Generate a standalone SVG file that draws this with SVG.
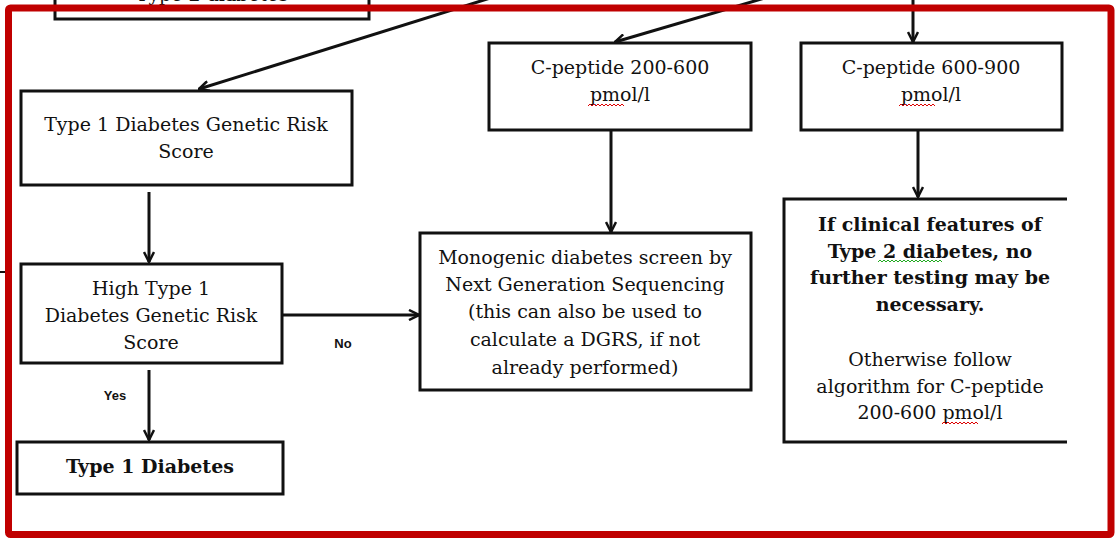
<svg xmlns="http://www.w3.org/2000/svg" width="1115" height="541" viewBox="0 0 1115 541">
<style>
.box{fill:#fff;stroke:#111;stroke-width:3}
.open{fill:none;stroke:#111;stroke-width:3}
.t{font-family:"DejaVu Serif","Liberation Serif",serif;font-size:19px;fill:#111;text-anchor:middle}
.b{font-weight:bold}
.lbl{font-family:"Liberation Sans",Arial,sans-serif;font-size:13px;font-weight:bold;fill:#111;text-anchor:middle}
.c{fill:none;stroke:#111;stroke-width:3}
.sq{fill:none;stroke-width:1}
</style>
<defs>
<marker id="ah" viewBox="0 0 12 12" refX="11" refY="6" markerWidth="12" markerHeight="12" markerUnits="userSpaceOnUse" orient="auto">
<path d="M1,1 L11,6 L1,11" fill="none" stroke="#111" stroke-width="2.5"/>
</marker>
</defs>
<rect width="1115" height="541" fill="#fff"/>

<g id="type2-box">
<path class="open" d="M55,-2 V19 H369 V-2"/>
<text class="t" x="212" y="1">Type 2 diabetes</text>
</g>

<g id="connectors">
<path class="c" d="M500,-5 L199,89" marker-end="url(#ah)"/>
<path class="c" d="M775,-5 L615,42" marker-end="url(#ah)"/>
<path class="c" d="M913,-5 V42" marker-end="url(#ah)"/>
<path class="c" d="M918,130 V197" marker-end="url(#ah)"/>
<path class="c" d="M611,130 V232" marker-end="url(#ah)"/>
<path class="c" d="M149,192 V262" marker-end="url(#ah)"/>
<path class="c" d="M282,315 H419" marker-end="url(#ah)"/>
<path class="c" d="M149,370 V440" marker-end="url(#ah)"/>
<path d="M0,272 H10" stroke="#111" stroke-width="2"/>
<text class="lbl" x="343" y="348">No</text>
<text class="lbl" x="115" y="400">Yes</text>
</g>

<g id="t1grs">
<rect class="box" x="21" y="91" width="331" height="94"/>
<text class="t" x="186" y="131">Type 1 Diabetes Genetic Risk</text>
<text class="t" x="186" y="158">Score</text>
</g>

<g id="cpep-200-600">
<rect class="box" x="489" y="43" width="262" height="87"/>
<text class="t" x="620" y="74">C-peptide 200-600</text>
<text class="t" x="620" y="101">pmol/l</text>
<path class="sq" stroke="#d00" d="M588,106 l2,-2 l2,2 l2,-2 l2,2 l2,-2 l2,2 l2,-2 l2,2 l2,-2 l2,2 l2,-2 l2,2 l2,-2 l2,2 l2,-2 l2,2 l2,-2 l2,2"/>
</g>

<g id="cpep-600-900">
<rect class="box" x="801" y="43" width="261" height="87"/>
<text class="t" x="931" y="74">C-peptide 600-900</text>
<text class="t" x="931" y="101">pmol/l</text>
<path class="sq" stroke="#d00" d="M899,106 l2,-2 l2,2 l2,-2 l2,2 l2,-2 l2,2 l2,-2 l2,2 l2,-2 l2,2 l2,-2 l2,2 l2,-2 l2,2 l2,-2 l2,2 l2,-2 l2,2"/>
</g>

<g id="high-t1grs">
<rect class="box" x="21" y="264" width="261" height="99"/>
<text class="t" x="151" y="295">High Type 1</text>
<text class="t" x="151" y="322">Diabetes Genetic Risk</text>
<text class="t" x="151" y="349">Score</text>
</g>

<g id="type1">
<rect class="box" x="17" y="442" width="266" height="52"/>
<text class="t b" x="150" y="473">Type 1 Diabetes</text>
</g>

<g id="monogenic">
<rect class="box" x="420" y="233" width="331" height="157"/>
<text class="t" x="585" y="264">Monogenic diabetes screen by</text>
<text class="t" x="585" y="291">Next Generation Sequencing</text>
<text class="t" x="585" y="318">(this can also be used to</text>
<text class="t" x="585" y="346">calculate a DGRS, if not</text>
<text class="t" x="585" y="374">already performed)</text>
</g>

<g id="type2-features">
<path class="open" d="M1067,199 H784 V442 H1067"/>
<text class="t b" x="930" y="231">If clinical features of</text>
<text class="t b" x="930" y="258">Type 2 diabetes, no</text>
<text class="t b" x="930" y="284">further testing may be</text>
<text class="t b" x="930" y="311">necessary.</text>
<text class="t" x="930" y="366">Otherwise follow</text>
<text class="t" x="930" y="393">algorithm for C-peptide</text>
<text class="t" x="930" y="419">200-600 pmol/l</text>
<path class="sq" stroke="#2a2" d="M878,262 l2,-2 l2,2 l2,-2 l2,2 l2,-2 l2,2 l2,-2 l2,2 l2,-2 l2,2 l2,-2 l2,2 l2,-2 l2,2 l2,-2 l2,2 l2,-2 l2,2 l2,-2 l2,2 l2,-2 l2,2 l2,-2 l2,2 l2,-2 l2,2 l2,-2 l2,2 l2,-2 l2,2 l2,-2 l2,2"/>
<path class="sq" stroke="#d00" d="M942,424 l2,-2 l2,2 l2,-2 l2,2 l2,-2 l2,2 l2,-2 l2,2 l2,-2 l2,2 l2,-2 l2,2 l2,-2 l2,2 l2,-2 l2,2 l2,-2 l2,2"/>
</g>

<rect id="frame" x="8.5" y="8" width="1102.5" height="526.5" rx="2" fill="none" stroke="#c00000" stroke-width="7"/>
</svg>
